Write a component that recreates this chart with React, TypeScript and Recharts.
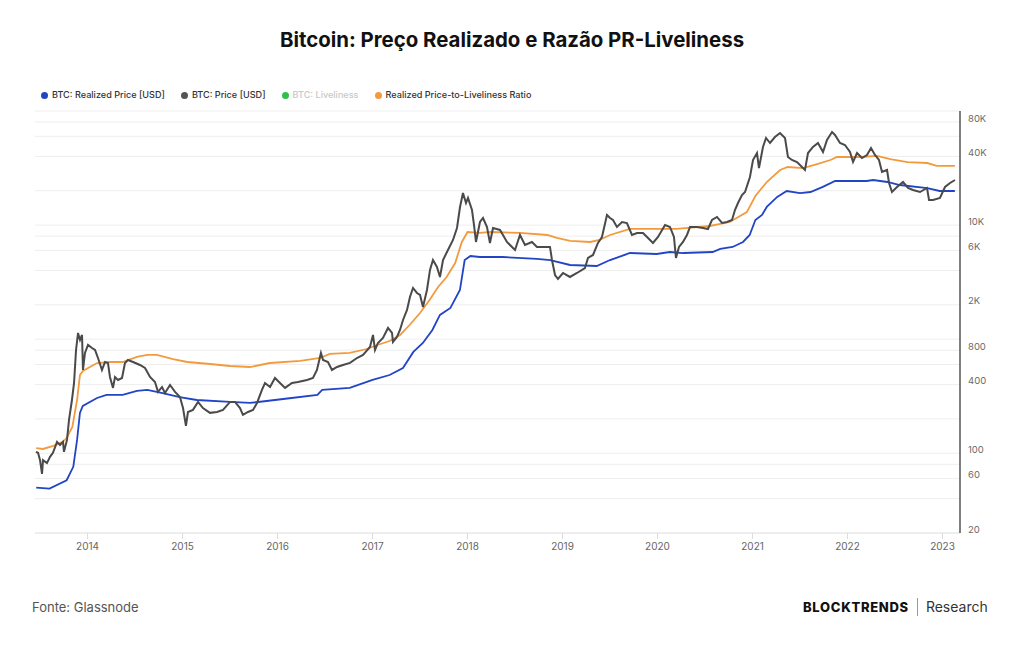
import React from 'react';
import { LineChart, Line, XAxis, YAxis, CartesianGrid } from 'recharts';

// ---- tick definitions ----
const yearTicks = [2014, 2015, 2016, 2017, 2018, 2019, 2020, 2021, 2022, 2023];
const priceTicks = [20, 40, 60, 80, 100, 200, 400, 600, 800, 1000, 2000, 4000, 6000, 8000, 10000, 20000, 40000, 60000, 80000, 100000];
const priceTickLabels = ['20', '', '60', '', '100', '', '400', '', '800', '', '2K', '', '6K', '', '10K', '', '40K', '', '80K', ''];

// ---- series: [decimal year, value USD] ----
const realizedPrice: [number, number][] = [
  [2013.46, 50], [2013.6, 49], [2013.78, 58], [2013.85, 76], [2013.89, 131], [2013.92, 226], [2013.95, 260],
  [2014.1, 305], [2014.2, 325], [2014.37, 325], [2014.52, 352], [2014.63, 359], [2014.79, 337], [2014.97, 311],
  [2015.15, 293], [2015.5, 282], [2015.71, 276], [2016.06, 299], [2016.42, 325], [2016.47, 359], [2016.76, 374],
  [2017.0, 439], [2017.18, 485], [2017.32, 559], [2017.43, 773], [2017.53, 927], [2017.63, 1205], [2017.71, 1630],
  [2017.82, 1876], [2017.92, 2698], [2017.97, 4940], [2018.03, 5360], [2018.13, 5250], [2018.37, 5250],
  [2018.73, 5050], [2018.87, 4940], [2019.08, 4470], [2019.36, 4380], [2019.5, 4940], [2019.71, 5690],
  [2019.99, 5580], [2020.13, 5810], [2020.27, 5690], [2020.58, 5810], [2020.66, 6180], [2020.79, 6430],
  [2020.9, 7110], [2020.97, 8190], [2021.03, 11090], [2021.1, 12280], [2021.15, 14430], [2021.26, 17640],
  [2021.36, 19900], [2021.5, 19100], [2021.61, 19500], [2021.74, 21600], [2021.87, 24340], [2022.2, 24340],
  [2022.27, 24840], [2022.42, 23860], [2022.55, 22450], [2022.84, 21130], [2022.97, 19900], [2023.13, 19900],
];

const ratioLine: [number, number][] = [
  [2013.46, 111], [2013.53, 109], [2013.64, 116], [2013.74, 126], [2013.78, 136], [2013.84, 170], [2013.89, 293],
  [2013.92, 485], [2013.95, 526], [2014.1, 618], [2014.24, 631], [2014.37, 631], [2014.52, 698], [2014.63, 727],
  [2014.73, 727], [2014.9, 670], [2015.05, 631], [2015.29, 606], [2015.5, 582], [2015.71, 570], [2015.92, 618],
  [2016.24, 644], [2016.45, 684], [2016.55, 742], [2016.76, 757], [2016.94, 820], [2017.05, 889], [2017.18, 964],
  [2017.29, 1088], [2017.39, 1331], [2017.5, 1697], [2017.6, 2207], [2017.69, 2868], [2017.78, 3506],
  [2017.87, 4652], [2017.94, 7110], [2018.0, 8700], [2018.13, 8530], [2018.24, 8700], [2018.55, 8530],
  [2018.84, 8190], [2018.94, 7710], [2019.08, 7260], [2019.29, 7110], [2019.39, 7400], [2019.5, 8190],
  [2019.71, 9250], [2019.99, 9250], [2020.2, 9250], [2020.55, 9820], [2020.76, 10640], [2020.94, 13000],
  [2021.03, 17980], [2021.15, 23860], [2021.29, 30400], [2021.37, 32300], [2021.53, 31600], [2021.68, 34300],
  [2021.82, 37200], [2021.89, 39500], [2022.13, 39500], [2022.31, 40350], [2022.45, 37900], [2022.63, 35700],
  [2022.84, 35000], [2022.94, 33000], [2023.13, 33000],
];

const btcPrice: [number, number][] = [
  [2013.457, 103], [2013.479, 101], [2013.5, 87], [2013.521, 66], [2013.531, 87], [2013.573, 82], [2013.605, 93],
  [2013.636, 101], [2013.679, 126], [2013.71, 118], [2013.742, 126], [2013.752, 103], [2013.784, 131],
  [2013.805, 196], [2013.836, 293], [2013.858, 413], [2013.879, 804], [2013.9, 1133], [2013.921, 984],
  [2013.942, 1088], [2013.952, 537], [2013.973, 757], [2014.005, 890], [2014.047, 837], [2014.079, 804],
  [2014.11, 684], [2014.152, 537], [2014.184, 631], [2014.215, 619], [2014.236, 466], [2014.268, 374],
  [2014.289, 466], [2014.321, 439], [2014.363, 457], [2014.394, 619], [2014.426, 657], [2014.479, 631],
  [2014.552, 594], [2014.605, 559], [2014.658, 466], [2014.71, 422], [2014.742, 345], [2014.784, 381],
  [2014.815, 338], [2014.868, 397], [2014.921, 345], [2014.973, 311], [2015.005, 249], [2015.036, 174],
  [2015.057, 230], [2015.11, 240], [2015.163, 282], [2015.215, 249], [2015.289, 226], [2015.363, 230],
  [2015.426, 240], [2015.5, 282], [2015.552, 282], [2015.605, 249], [2015.636, 217], [2015.689, 230],
  [2015.742, 240], [2015.784, 276], [2015.836, 359], [2015.868, 413], [2015.921, 381], [2015.973, 457],
  [2016.026, 413], [2016.079, 374], [2016.152, 413], [2016.215, 422], [2016.31, 439], [2016.373, 457],
  [2016.415, 537], [2016.457, 757], [2016.479, 657], [2016.531, 631], [2016.573, 537], [2016.626, 571],
  [2016.689, 594], [2016.763, 619], [2016.836, 684], [2016.9, 727], [2016.973, 854], [2017.005, 1088],
  [2017.026, 804], [2017.057, 926], [2017.11, 1025], [2017.163, 1254], [2017.205, 1133], [2017.215, 945],
  [2017.257, 1045], [2017.289, 1204], [2017.321, 1473], [2017.363, 1803], [2017.394, 2344], [2017.426, 2810],
  [2017.468, 2541], [2017.5, 2440], [2017.531, 1915], [2017.573, 2699], [2017.605, 4042], [2017.636, 4945],
  [2017.678, 4293], [2017.71, 3509], [2017.742, 4945], [2017.794, 6050], [2017.847, 7403], [2017.889, 9432],
  [2017.921, 14410], [2017.952, 19110], [2017.984, 15620], [2018.005, 17280], [2018.047, 13560],
  [2018.068, 10020], [2018.089, 7111], [2018.131, 10650], [2018.163, 11540], [2018.205, 9623], [2018.236, 6968],
  [2018.268, 9432], [2018.342, 9060], [2018.373, 8190], [2018.415, 7111], [2018.468, 6430], [2018.5, 6050],
  [2018.552, 8190], [2018.605, 6690], [2018.678, 7111], [2018.731, 6430], [2018.794, 6430], [2018.868, 6430],
  [2018.889, 4945], [2018.921, 3653], [2018.952, 3370], [2019.005, 3803], [2019.078, 3509], [2019.152, 3803],
  [2019.236, 4207], [2019.268, 5148], [2019.321, 5470], [2019.373, 6968], [2019.415, 7866], [2019.468, 12260],
  [2019.5, 11540], [2019.531, 11080], [2019.573, 9623], [2019.626, 10650], [2019.678, 10430], [2019.731, 8190],
  [2019.784, 8527], [2019.847, 8527], [2019.9, 7706], [2019.952, 6968], [2020.005, 7866], [2020.079, 10020],
  [2020.131, 9623], [2020.173, 7866], [2020.194, 5148], [2020.226, 6430], [2020.268, 7111], [2020.31, 8190],
  [2020.342, 9623], [2020.415, 9623], [2020.479, 9432], [2020.531, 9243], [2020.573, 11080], [2020.626, 11780],
  [2020.679, 10430], [2020.731, 10650], [2020.784, 11080], [2020.815, 13560], [2020.847, 15620],
  [2020.889, 18350], [2020.921, 19500], [2020.973, 26400], [2021.005, 37200], [2021.047, 42840],
  [2021.068, 31650], [2021.11, 48370], [2021.142, 57990], [2021.184, 52420], [2021.236, 59180],
  [2021.289, 64150], [2021.342, 57990], [2021.373, 39530], [2021.415, 37200], [2021.468, 35730],
  [2021.521, 32300], [2021.552, 30400], [2021.584, 42840], [2021.636, 48370], [2021.689, 52420],
  [2021.742, 43720], [2021.784, 55690], [2021.837, 65460], [2021.868, 61630], [2021.921, 52420],
  [2021.973, 50350], [2022.026, 43720], [2022.058, 35730], [2022.1, 42840], [2022.152, 38730],
  [2022.205, 41160], [2022.247, 47400], [2022.289, 41160], [2022.331, 37200], [2022.363, 29200],
  [2022.416, 30400], [2022.437, 23390], [2022.468, 19500], [2022.521, 21570], [2022.584, 23860],
  [2022.637, 21140], [2022.689, 20300], [2022.763, 19500], [2022.837, 21140], [2022.858, 16600],
  [2022.9, 16600], [2022.973, 17280], [2023.026, 21570], [2023.079, 23390], [2023.131, 24850],
];

const legendItems = [
  { label: 'BTC: Realized Price [USD]', color: '#2145c4', text: '#333' },
  { label: 'BTC: Price [USD]', color: '#555555', text: '#333' },
  { label: 'BTC: Liveliness', color: '#2fbf4a', text: '#c8c8c8' },
  { label: 'Realized Price-to-Liveliness Ratio', color: '#f39a3d', text: '#333' },
];

const toRows = (arr: [number, number][]) => arr.map(([t, v]) => ({ t, v }));

const FONT = 'Inter, "Noto Sans", sans-serif';

const PriceTick = (props: any) => {
  const { x, y, payload } = props;
  const idx = priceTicks.indexOf(payload.value);
  const label = idx >= 0 ? priceTickLabels[idx] : '';
  if (!label) return null;
  return (
    <text x={x} y={y} dy={-0.5} fill="#6a6a6a" fontSize={9.5} fontFamily={FONT} textAnchor="start">
      {label}
    </text>
  );
};

export default function App() {
  return (
    <div style={{ position: 'absolute', left: 0, top: 0, width: 1024, height: 645, background: '#fff', fontFamily: FONT, overflow: 'hidden' }}>
      <div style={{ position: 'absolute', left: 0, top: 26, width: 1024, textAlign: 'center', fontSize: 20.4, fontWeight: 700, color: '#111', lineHeight: '28px' }}>
        Bitcoin: Preço Realizado e Razão PR-Liveliness
      </div>
      <div style={{ position: 'absolute', left: 41, top: 88, display: 'flex', alignItems: 'center', fontSize: 9.1, fontWeight: 500, lineHeight: '14px' }}>
        {legendItems.map((it, i) => (
          <div key={i} style={{ display: 'flex', alignItems: 'center', marginRight: 16 }}>
            <span style={{ display: 'inline-block', width: 7, height: 7, borderRadius: '50%', background: it.color, marginRight: 4 }} />
            <span style={{ color: it.text }}>{it.label}</span>
          </div>
        ))}
      </div>
      <div style={{ position: 'absolute', left: 0, top: 0 }}>
        <LineChart width={1024} height={645} data={toRows(btcPrice)} margin={{ top: 111, right: 0, left: 35, bottom: 82 }}>
          <CartesianGrid vertical={false} stroke="#eeeeee" strokeWidth={1} />
          <XAxis
            dataKey="t"
            type="number"
            domain={[2013.447, 2023.184]}
            ticks={yearTicks}
            allowDataOverflow
            height={30}
            tickSize={6}
            tickMargin={4}
            axisLine={{ stroke: '#e4e4e4' }}
            tickLine={{ stroke: '#dddddd' }}
            tick={{ fill: '#666', fontSize: 10, fontFamily: FONT }}
            tickFormatter={(v: number) => String(Math.round(v))}
          />
          <YAxis
            orientation="right"
            scale="log"
            domain={[20, 100000]}
            ticks={priceTicks}
            allowDataOverflow
            width={64}
            tickLine={false}
            tickSize={6}
            tickMargin={2}
            axisLine={{ stroke: '#555', strokeWidth: 1.5 }}
            tick={<PriceTick />}
            interval={0}
          />
          <Line data={toRows(ratioLine)} dataKey="v" type="linear" stroke="#f39a3d" strokeWidth={1.8} dot={false} isAnimationActive={false} />
          <Line data={toRows(realizedPrice)} dataKey="v" type="linear" stroke="#2145c4" strokeWidth={1.8} dot={false} isAnimationActive={false} />
          <Line data={toRows(btcPrice)} dataKey="v" type="linear" stroke="#4a4a4a" strokeWidth={2} dot={false} isAnimationActive={false} />
        </LineChart>
      </div>
      <div style={{ position: 'absolute', left: 32, top: 598, fontSize: 13, color: '#555', lineHeight: '18px' }}>Fonte: Glassnode</div>
      <div style={{ position: 'absolute', left: 803, top: 597, display: 'flex', alignItems: 'center', lineHeight: '20px' }}>
        <span style={{ fontSize: 13, fontWeight: 800, color: '#111', letterSpacing: 0.7 }}>BLOCKTRENDS</span>
        <span style={{ display: 'inline-block', width: 1, height: 18, background: '#999', margin: '0 8px' }} />
        <span style={{ fontSize: 14, color: '#333' }}>Research</span>
      </div>
    </div>
  );
}
